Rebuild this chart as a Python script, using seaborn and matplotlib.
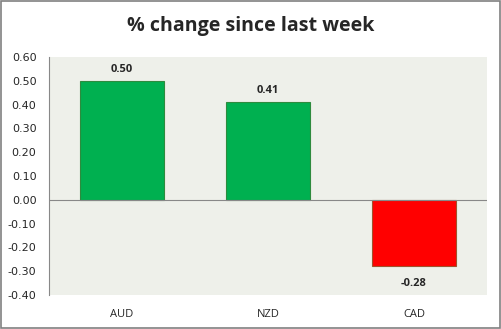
import matplotlib
matplotlib.use("Agg")
import matplotlib.pyplot as plt
import seaborn as sns
import pandas as pd

categories = ["AUD", "NZD", "CAD"]
values = [0.50, 0.41, -0.28]
colors = ["#00B050", "#00B050", "#FF0000"]
edges = ["#2E8B3E", "#2E8B3E", "#A0522D"]
yticks = [0.60, 0.50, 0.40, 0.30, 0.20, 0.10, 0.00, -0.10, -0.20, -0.30, -0.40]

df = pd.DataFrame({"cat": categories, "val": values})

sns.set_style("white")
plt.rcParams['font.family'] = ['Open Sans', 'DejaVu Sans']

fig = plt.figure(figsize=(5.02, 3.29), dpi=100)
ax = fig.add_axes([49/502, 1 - 295/329, (487-49)/502, (295-57)/329])
ax.set_facecolor("#EEF0EA")

sns.barplot(data=df, x="cat", y="val", hue="cat", palette=colors, legend=False,
            width=0.57, ax=ax, saturation=1)
for patch, ec in zip(ax.patches, edges):
    patch.set_edgecolor(ec)
    patch.set_linewidth(0.8)

ax.set_ylim(-0.40, 0.60)
ax.set_yticks(yticks)
ax.set_yticklabels([f"{t:.2f}" for t in yticks], fontsize=8, family=['DejaVu Sans'])
ax.set_xlabel("")
ax.set_ylabel("")
ax.tick_params(axis='x', length=0, labelsize=8, pad=10)
ax.tick_params(axis='y', length=0, pad=9)
for s in ["top", "right", "bottom"]:
    ax.spines[s].set_visible(False)
ax.spines["left"].set_color("#888888")
ax.spines["left"].set_linewidth(0.8)
ax.axhline(0, color="#888888", linewidth=0.8)

for i, v in enumerate(values):
    off = 0.025 if v >= 0 else -0.05
    ax.text(i, v + off, f"{v:.2f}", ha="center", va="bottom" if v >= 0 else "top",
            fontsize=8, fontweight="bold")

fig.text(0.5, 1 - 26/329, "% change since last week", ha="center", va="center",
         fontsize=14.1, fontweight="bold")

border = plt.Rectangle((0.002, 0.003), 0.995, 0.994, transform=fig.transFigure,
                       fill=False, edgecolor="#808080", linewidth=1.2)
fig.patches.append(border)

fig.savefig("out.png", dpi=100)
